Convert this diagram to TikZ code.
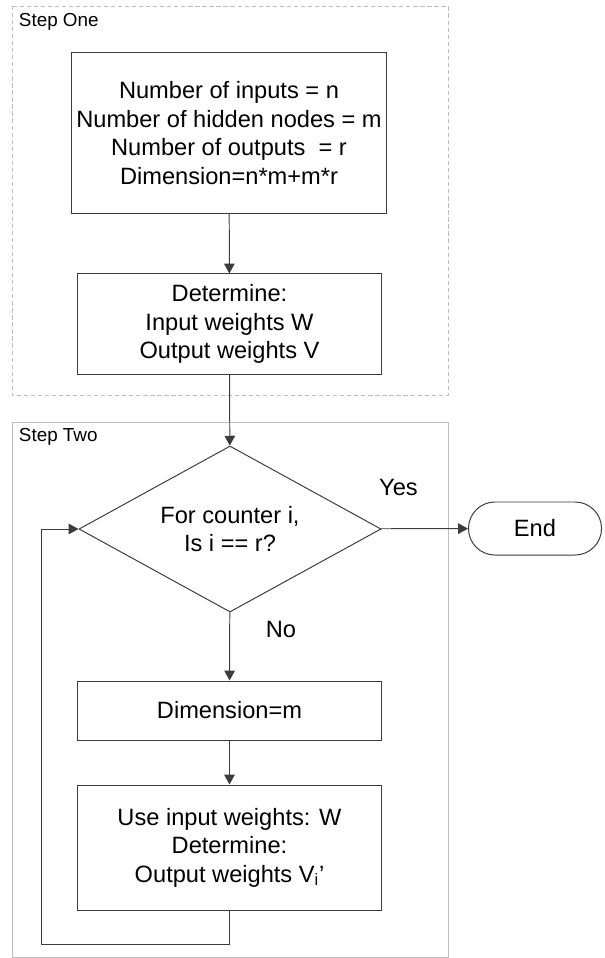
\documentclass[tikz,border=0pt]{standalone}
\usepackage{fontspec}
\setmainfont{Liberation Sans}
\usepackage{tikz}
\usetikzlibrary{shapes.geometric, arrows.meta}
\definecolor{linegray}{HTML}{3C3C3C}
\definecolor{framegray}{HTML}{BEBEBE}
\newcommand{\flowfont}{\fontsize{16.8}{20.3}\selectfont}
\newcommand{\stepfont}{\fontsize{13.4}{16}\selectfont}
\tikzstyle{process} = [rectangle, minimum width=7.575cm, text centered, align=center, draw=linegray, line width=0.7pt, font=\flowfont]
\tikzstyle{decision} = [diamond, aspect=1.82, minimum width=7.55cm, minimum height=4.15cm, inner sep=0pt, text centered, align=center, draw=linegray, line width=0.7pt, font=\flowfont]
\tikzstyle{startstop} = [rectangle, rounded corners=0.66cm, minimum width=3.325cm, minimum height=1.325cm, text centered, draw=linegray, line width=0.7pt, font=\flowfont]
\tikzstyle{frame} = [draw=framegray, line width=0.6pt]
\tikzstyle{arrow} = [draw=linegray, line width=0.7pt, -{Triangle[length=7pt,width=7.5pt]}]

\begin{document}
\begin{tikzpicture}[x=0.025cm, y=-0.025cm]
            \useasboundingbox (0,0) rectangle (604,958);

            % the two step frames
            \draw [frame, dash pattern=on 3pt off 2pt] (12,6) rectangle (448,395);
            \node (step-one) [anchor=west, font=\stepfont] at (14,22) {Step One};
            \draw [frame] (12,422) rectangle (448,957);
            \node (step-two) [anchor=west, font=\stepfont] at (14,437) {Step Two};

            \node (sizes) [process, minimum height=4cm] at (229,133) {Number of inputs = n\\Number of hidden nodes = m\\Number of outputs~~= r\\Dimension=n*m+m*r};
            \node (weights) [process, minimum height=2.5cm] at (229.5,324) {Determine:\\Input weights W\\Output weights V};
            \node (counter) [decision] at (230,529) {For counter i,\\Is i == r?};
            \node (end) [startstop] at (535,528.5) {End};
            \node (dim-m) [process, minimum height=1.475cm] at (229.5,710.5) {Dimension=m};
            \node (use-w) [process, minimum height=3.125cm] at (229.5,847.5) {Use input weights: W\\Determine:\\Output weights V\textsubscript{i}’};
            \coordinate (loop-corner) at (41,944);

            \draw [arrow] (sizes) -- (weights);
            \draw [arrow] (weights) -- (counter);
            \draw [arrow] (counter) -- node[pos=0.2, yshift=1.02cm, font=\flowfont] {Yes} (end);
            \draw [arrow] (counter) -- node[pos=0.25, xshift=1.28cm, font=\flowfont] {No} (dim-m);
            \draw [arrow] (dim-m) -- (use-w);
            \draw [arrow] (use-w.south) |- (loop-corner) |- (counter.west);
        \end{tikzpicture}
\end{document}
